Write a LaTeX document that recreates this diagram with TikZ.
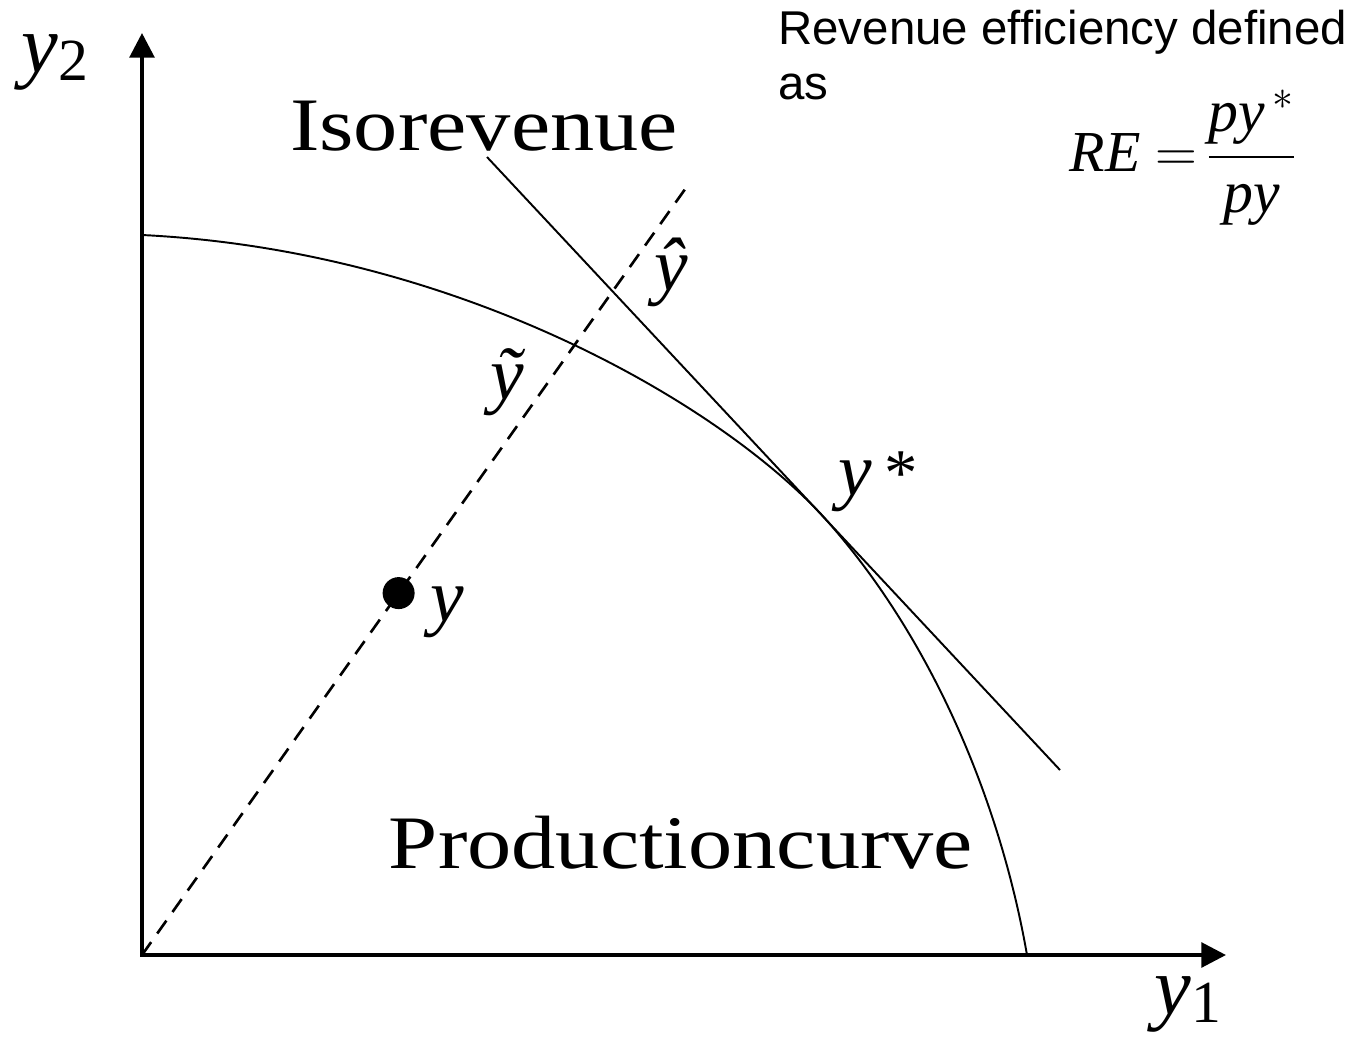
\RequirePackage{fix-cm}
\documentclass[tikz,border=0pt]{standalone}
\usepackage{amsmath}
\usepackage{fontspec}
\setmainfont{Liberation Serif}
\newfontfamily\arialfont{Liberation Sans}
\usepackage{tikz}
\usetikzlibrary{arrows.meta, positioning, calc}
\newcommand{\vy}{\textit{y}}
\newcommand{\widetext}[1]{\scalebox{1.17}[1]{#1}}
\newcommand{\axsub}[1]{\raisebox{-5pt}{\fontsize{34}{34}\selectfont #1}}

\begin{document}
\begin{tikzpicture}[x=0.02cm, y=-0.02cm,
  axis/.style={line width=2.2pt, {Triangle[length=14pt, width=14pt]}-{Triangle[length=14pt, width=14pt]}},
  curve/.style={line width=1.1pt},
  lbl/.style={font=\fontsize{43}{50}\selectfont, inner sep=0pt}]
  \useasboundingbox (0,0) rectangle (1363,1038);

  % axes
  \coordinate (O) at (142,955);
  \coordinate (y1tip) at (1226,955);
  \coordinate (y2tip) at (142,33);
  \draw[axis] (y2tip) -- (O) -- (y1tip);
  \node[lbl, font=\fontsize{47}{50}\selectfont] (y2lab) at (55,62) {\vy\axsub{2}};
  \node[lbl, font=\fontsize{47}{50}\selectfont] (y1lab) at (1188,1004) {\vy\axsub{1}};

  % production curve
  \coordinate (ptop) at (142,235);
  \coordinate (ystar) at (820,513);
  \coordinate (pbot) at (1027,955);
  \draw[curve] (ptop) .. controls (450,250) and (710,397) .. (ystar)
    .. controls (930,633) and (1000,800) .. (pbot);
  \node[lbl] (prodlab) at (681,843) {\widetext{Productioncurve}};

  % isorevenue line
  \coordinate (iso1) at (487,157);
  \coordinate (iso2) at (1060,770);
  \draw[curve] (iso1) -- (iso2);
  \node[lbl] (isolab) at (484,126) {\widetext{Isorevenue}};

  % ray through y
  \coordinate (rayend) at (688,185);
  \draw[line width=1.5pt, dash pattern=on 9pt off 6pt] (O) -- (rayend);
  \node[circle, fill=black, inner sep=0pt, minimum size=0.64cm] (ydot) at ($(O)!0.47!(rayend)$) {};
  \node[lbl, right=0.3cm of ydot, yshift=-0.38cm] (ylab) {\vy};
  \node[lbl] (ytilde) at (508,382) {\textit{ỹ}};
  \node[lbl] (yhat) at (671,272) {\textit{ŷ}};
  \node[lbl] (ystarlab) at (878,482) {\vy\,{\fontsize{38}{40}\selectfont *}};

  % revenue efficiency
  \node[anchor=north west, align=left, inner sep=0pt,
    font=\arialfont\fontsize{27}{31}\selectfont] (retext) at (778,10)
    {Revenue efficiency defined\\as};
  \node[inner sep=0pt, font=\fontsize{34}{38}\selectfont] (refrac) at (1183,158)
    {\text{\fontsize{33}{36}\selectfont\textit{RE} $=$}\,$\dfrac{\textit{py}^{\,*}}{\textit{py}}$};
\end{tikzpicture}
\end{document}
